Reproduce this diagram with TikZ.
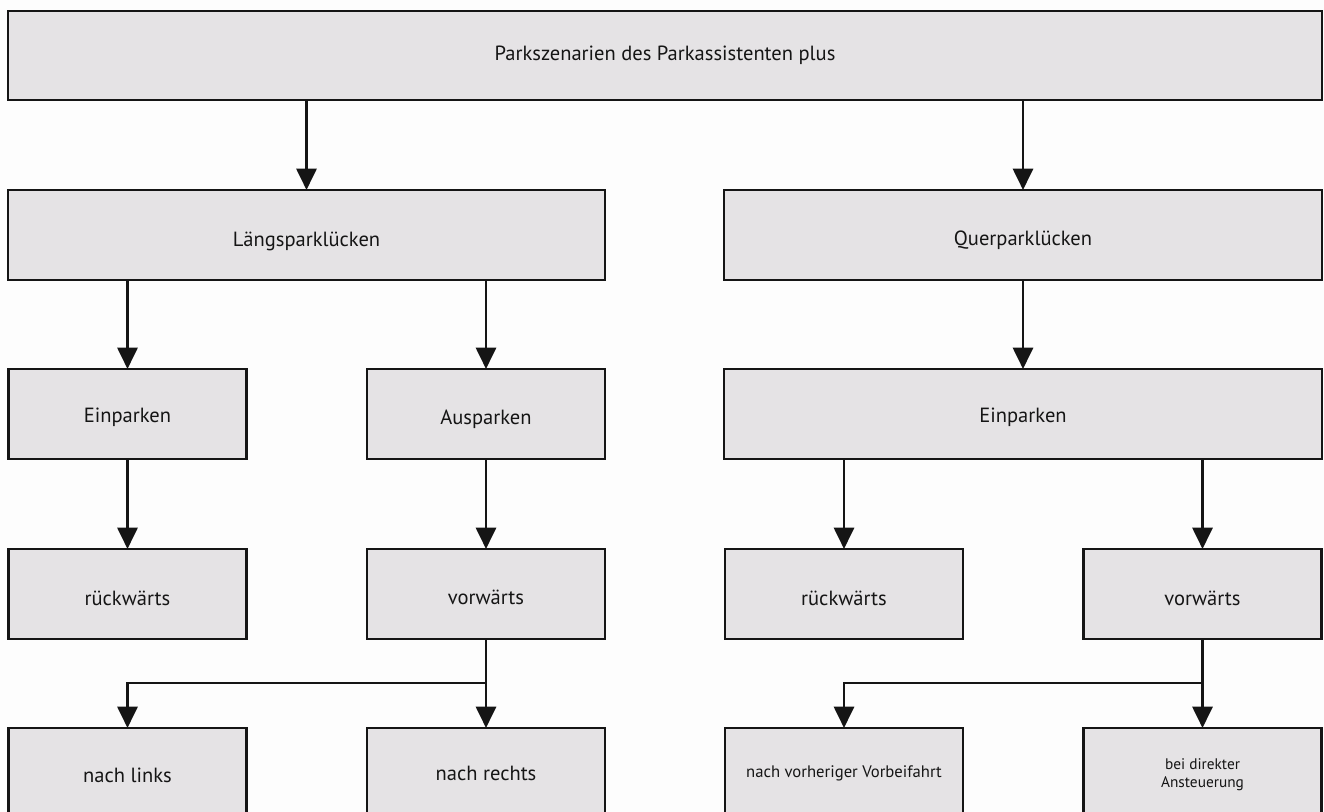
\documentclass[tikz,border=0pt]{standalone}
\usepackage{fontspec}
\setmainfont{PT Sans}
\usetikzlibrary{arrows.meta}
\definecolor{boxfill}{HTML}{E5E3E5}
\definecolor{bgc}{HTML}{FDFDFD}
\definecolor{ink}{HTML}{151515}
\newcommand{\lowerby}[2]{\raisebox{-#1}[\height][\depth]{#2}}
\tikzset{
  box/.style={draw=ink, fill=boxfill, line width=2.2pt, text=ink, align=center,
    inner sep=0pt, outer sep=0pt, font=\fontsize{15.4}{18}\selectfont},
  smallbox/.style={box, minimum width=178.5pt, minimum height=67.5pt},
  conn/.style={draw=ink, line width=2.2pt, line join=miter},
  arr/.style={conn, -{Triangle[width=15pt,length=16pt]}},
  smalltext/.style={font=\fontsize{11.5}{13.5}\selectfont}
}
\begin{document}
\begin{tikzpicture}[x=0.75pt,y=-0.75pt]
\useasboundingbox (0,0) rectangle (1324,812);
\clip (0,0) rectangle (1324,812);
\fill[bgc] (0,0) rectangle (1324,812);
% top
\node[box, minimum width=985.5pt, minimum height=66.75pt] (top) at (665,55.5) {Parkszenarien des Parkassistenten plus};
% level 2
\node[box, minimum width=447.75pt, minimum height=67.5pt] (lang) at (306.5,235) {\lowerby{5pt}{Längsparklücken}};
\node[box, minimum width=448.5pt, minimum height=67.5pt] (quer) at (1023,235) {\lowerby{4pt}{Querparklücken}};
% level 3
\node[smallbox] (einL) at (127.5,414) {\lowerby{2.5pt}{Einparken}};
\node[smallbox] (aus) at (486,414) {\lowerby{4pt}{Ausparken}};
\node[box, minimum width=448.5pt, minimum height=67.5pt] (einR) at (1023,414) {\lowerby{2.5pt}{Einparken}};
% level 4
\node[smallbox] (rueL) at (127.5,594) {\lowerby{3pt}{rückwärts}};
\node[smallbox] (vorL) at (486,594) {\lowerby{2.5pt}{vorwärts}};
\node[smallbox] (rueR) at (844,594) {\lowerby{3pt}{rückwärts}};
\node[smallbox] (vorR) at (1202.5,594) {\lowerby{3pt}{vorwärts}};
% level 5
\node[smallbox, minimum height=70.5pt] (links) at (127.5,775) {nach links};
\node[smallbox, minimum height=70.5pt] (rechts) at (486,775) {\lowerby{-1pt}{nach rechts}};
\node[smallbox, minimum height=70.5pt, font=\fontsize{12.5}{14}\selectfont] (vorbei) at (844,775) {\lowerby{-1pt}{nach vorheriger Vorbeifahrt}};
\node[smallbox, minimum height=70.5pt, smalltext] (direkt) at (1202.5,775) {bei direkter\\Ansteuerung};
% connectors
\draw[arr] (top.south -| lang.north) -- (lang.north);
\draw[arr] (top.south -| quer.north) -- (quer.north);
\draw[arr] (lang.south -| einL.north) -- (einL.north);
\draw[arr] (lang.south -| aus.north) -- (aus.north);
\draw[arr] (quer.south) -- (einR.north);
\draw[arr] (einL.south) -- (rueL.north);
\draw[arr] (aus.south) -- (vorL.north);
\draw[arr] (einR.south -| rueR.north) -- (rueR.north);
\draw[arr] (einR.south -| vorR.north) -- (vorR.north);
\coordinate (bL) at (486,683);
\coordinate (bR) at (1202.5,683);
\draw[conn] (vorL.south) -- (bL);
\draw[arr] (bL) -| (links.north);
\draw[arr] (bL) -- (rechts.north);
\draw[conn] (vorR.south) -- (bR);
\draw[arr] (bR) -| (vorbei.north);
\draw[arr] (bR) -- (direkt.north);
\end{tikzpicture}
\end{document}
